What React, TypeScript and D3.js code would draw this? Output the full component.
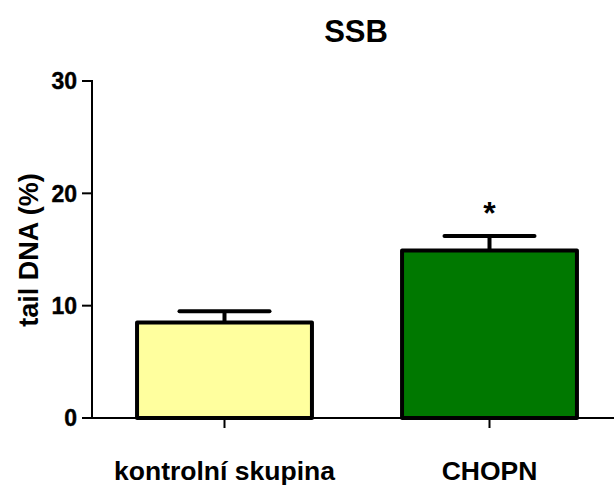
import React from "react";
import * as d3 from "d3";

const categories = ["kontrolní skupina", "CHOPN"];
const means = [8.5, 14.9];
const sems = [1.0, 1.3];
const fills = ["#FFFF9E", "#007800"];
const significance = ["", "*"];
const yTicks = [0, 10, 20, 30];

const W = 614;
const H = 488;
const font = "Arial, 'Liberation Sans', Helvetica, sans-serif";

export default function App() {
  const y = d3.scaleLinear().domain([0, 30]).range([418, 81]);
  const x = d3.scalePoint<string>().domain(categories).range([92, 622]).padding(0.5);
  const barW = x.step() * 0.66;
  const capHalf = 45;

  return (
    <div style={{ position: "absolute", left: 0, top: 0 }}>
      <svg width={W} height={H} style={{ display: "block", background: "#fff" }}>
        <text x={356} y={42} textAnchor="middle" fontFamily={font} fontWeight="bold" fontSize={31}>
          SSB
        </text>

        {/* y-axis title */}
        <text
          transform={`translate(38,250) rotate(-90)`}
          textAnchor="middle"
          fontFamily={font}
          fontWeight="bold"
          fontSize={27}
        >
          tail DNA (%)
        </text>

        {/* bars with upward error bars */}
        {categories.map((c, i) => {
          const cx = x(c) as number;
          const top = y(means[i]);
          const errTop = y(means[i] + sems[i]);
          return (
            <g key={c}>
              <rect
                x={cx - barW / 2}
                y={top}
                width={barW}
                height={y(0) - top}
                fill={fills[i]}
                stroke="#000"
                strokeWidth={4}
                strokeLinejoin="round"
              />
              <line x1={cx} x2={cx} y1={top} y2={errTop} stroke="#000" strokeWidth={4} />
              <line
                x1={cx - capHalf}
                x2={cx + capHalf}
                y1={errTop}
                y2={errTop}
                stroke="#000"
                strokeWidth={4}
                strokeLinecap="round"
              />
              {significance[i] && (
                <text
                  x={cx}
                  y={errTop - 12}
                  textAnchor="middle"
                  fontFamily={font}
                  fontWeight="bold"
                  fontSize={32}
                >
                  {significance[i]}
                </text>
              )}
              <line x1={cx} x2={cx} y1={y(0)} y2={y(0) + 10} stroke="#000" strokeWidth={2} />
              <text
                x={cx}
                y={480}
                textAnchor="middle"
                fontFamily={font}
                fontWeight="bold"
                fontSize={26.5}
              >
                {c}
              </text>
            </g>
          );
        })}

        {/* axes */}
        <line x1={92} x2={W} y1={y(0)} y2={y(0)} stroke="#000" strokeWidth={2} />
        <line x1={92} x2={92} y1={y(30) - 1} y2={y(0) + 1} stroke="#000" strokeWidth={2} />
        {yTicks.map((t) => (
          <g key={t}>
            <line x1={82} x2={92} y1={y(t)} y2={y(t)} stroke="#000" strokeWidth={2} />
            <text
              x={77}
              y={y(t)}
              dy="0.36em"
              textAnchor="end"
              fontFamily={font}
              fontWeight="bold"
              fontSize={23}
              stroke="#000"
              strokeWidth={0.4}
            >
              {t}
            </text>
          </g>
        ))}
      </svg>
    </div>
  );
}
